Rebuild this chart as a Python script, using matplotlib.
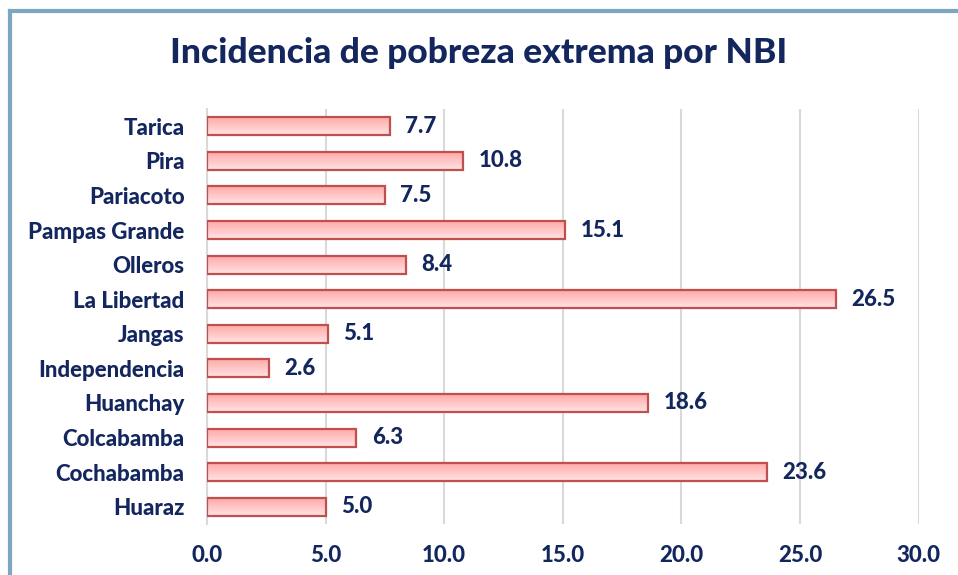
import matplotlib
matplotlib.use("Agg")
import matplotlib.pyplot as plt
import numpy as np
from matplotlib.lines import Line2D

plt.rcParams['font.family'] = ['Lato', 'DejaVu Sans']

# data (bottom to top as drawn)
districts = ["Huaraz", "Cochabamba", "Colcabamba", "Huanchay", "Independencia",
             "Jangas", "La Libertad", "Olleros", "Pampas Grande", "Pariacoto",
             "Pira", "Tarica"]
values = [5.0, 23.6, 6.3, 18.6, 2.6, 5.1, 26.5, 8.4, 15.1, 7.5, 10.8, 7.7]
xticks = [0, 5, 10, 15, 20, 25, 30]

navy = "#13275E"
fw = "black"

fig = plt.figure(figsize=(9.58, 5.75), dpi=100)
ax = fig.add_axes([0.216, 0.0887, 0.743, 0.7217])

y = np.arange(len(districts))
bars = ax.barh(y, values, height=0.52, color="#FFC0C0", edgecolor="#C0504D",
               linewidth=1.4, zorder=3)

# soft vertical gradient inside each bar
grad = np.linspace(0, 1, 50).reshape(-1, 1)
cmap = matplotlib.colors.LinearSegmentedColormap.from_list(
    "pink", ["#FFE3E3", "#FFA9A9"])
for b in bars:
    x0, y0 = b.get_x(), b.get_y()
    w, h = b.get_width(), b.get_height()
    im = ax.imshow(grad, extent=[x0, x0 + w, y0 + h, y0], cmap=cmap,
                   aspect="auto", zorder=3.5)
    im.set_clip_path(b)
    ax.barh(y0 + h / 2, w, height=h, left=x0, color="none",
            edgecolor="#C0504D", linewidth=1.6, zorder=4)

for yi, v in zip(y, values):
    ax.text(v + 0.65, yi, f"{v:.1f}", va="center", ha="left",
            fontsize=16, fontweight=fw, color=navy)

ax.set_xlim(0, 30)
ax.set_ylim(-0.5, len(districts) - 0.5)
ax.set_xticks(xticks)
ax.set_xticklabels([f"{t:.1f}" for t in xticks])
ax.set_yticks(y)
ax.set_yticklabels(districts)
ax.tick_params(length=0, labelsize=16, labelcolor=navy)
ax.tick_params(axis="x", pad=15)
ax.tick_params(axis="y", pad=16)
for lab in ax.get_xticklabels() + ax.get_yticklabels():
    lab.set_fontweight(fw)

ax.grid(axis="x", color="#D9D9D9", linewidth=1.5, zorder=0)
ax.set_axisbelow(True)
for s in ["top", "right", "bottom"]:
    ax.spines[s].set_visible(False)
ax.spines["left"].set_color("#D9D9D9")
ax.spines["left"].set_linewidth(1.5)

fig.text(0.5, 0.908, "Incidencia de pobreza extrema por NBI", ha="center",
         va="center", fontsize=25.5, fontweight=fw, color=navy)

# chart-area border (top and left visible)
fig.add_artist(Line2D([0.0105, 1.0], [0.9815, 0.9815], color="#7DA7C0",
                      linewidth=3, transform=fig.transFigure))
fig.add_artist(Line2D([0.0105, 0.0105], [0.0, 0.9815], color="#7DA7C0",
                      linewidth=3, transform=fig.transFigure))

fig.savefig("out.png", dpi=100)
